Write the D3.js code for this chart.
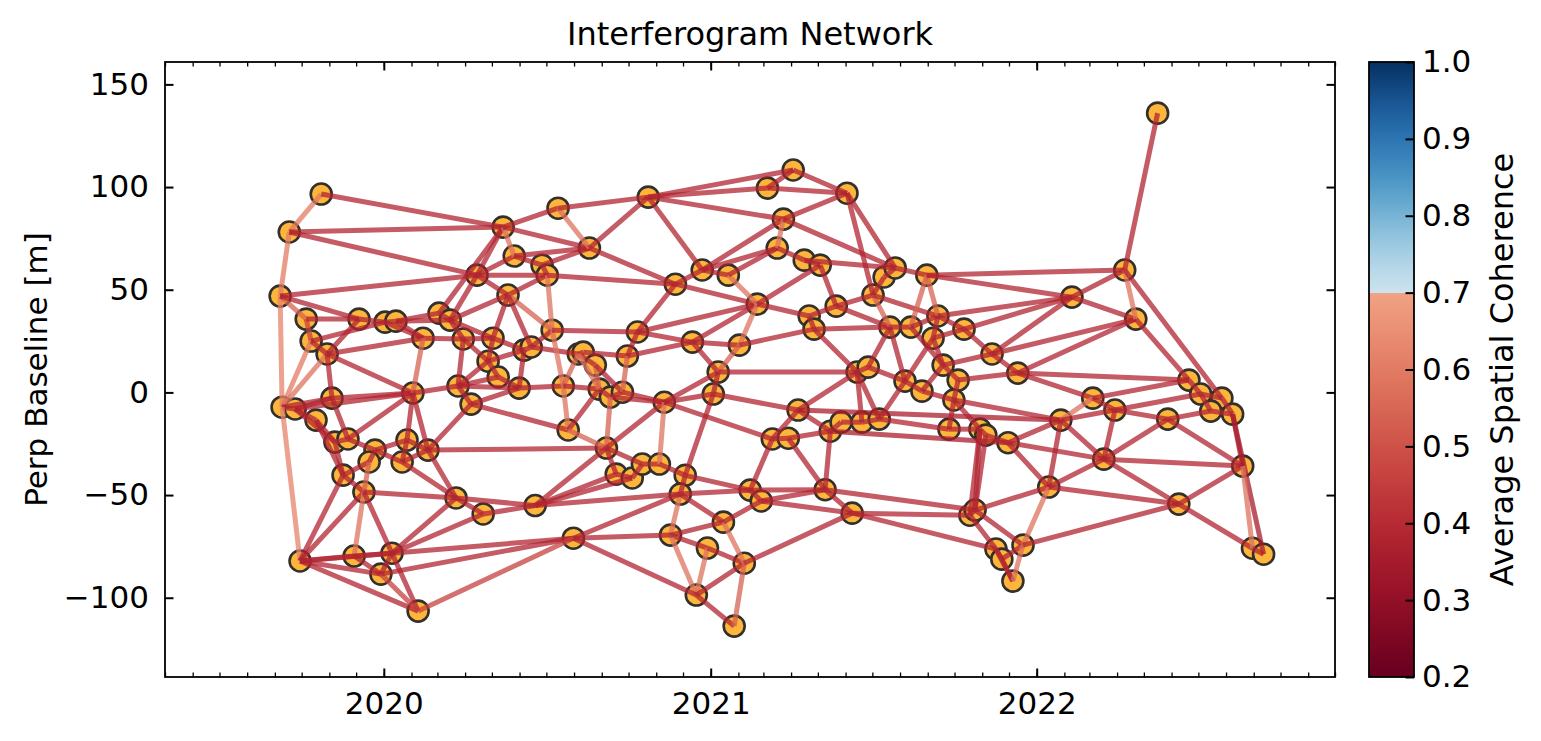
<!DOCTYPE html>
<html>
<head>
<meta charset="utf-8">
<script src="https://cdn.jsdelivr.net/npm/d3@7"></script>
<style>
  body { margin: 0; background: #fff; }
  text { font-family: "DejaVu Sans", sans-serif; }
</style>
</head>
<body>
<svg id="chart" width="1541" height="741"></svg>
<script>
// acquisition dates (decimal year) and perpendicular baselines [m], node ids 1..154
const acqYear = [
  2019.682, 2019.710, 2019.808, 2019.762, 2019.777, 2019.826, 2019.688, 2019.728, 2019.792, 2019.841,
  2019.850, 2019.890, 2019.875, 2019.939, 2019.973, 2019.955, 2019.743, 2019.909, 2020.025, 2019.991,
  2020.105, 2019.924, 2020.004, 2020.037, 2020.169, 2020.203, 2020.120, 2020.243, 2020.089, 2020.227,
  2020.071, 2020.135, 2020.056, 2020.221, 2020.267, 2020.304, 2020.285, 2020.365, 2020.399, 2020.380,
  2020.319, 2020.350, 2020.334, 2020.414, 2020.429, 2020.451, 2020.484, 2020.500, 2020.533, 2020.515,
  2020.549, 2020.564, 2020.595, 2020.610, 2020.647, 2020.659, 2020.693, 2020.730, 2020.745, 2020.776,
  2020.629, 2020.681, 2020.711, 2020.760, 2020.791, 2020.843, 2020.858, 2020.922, 2020.809, 2020.892,
  2020.944, 2020.974, 2021.023, 2021.008, 2020.907, 2020.877, 2020.990, 2020.956, 2021.072, 2021.039,
  2021.103, 2021.121, 2021.155, 2021.054, 2021.088, 2021.143, 2021.174, 2021.253, 2021.223, 2021.204,
  2021.418, 2021.287, 2021.336, 2021.302, 2021.317, 2021.385, 2021.268, 2021.189, 2021.238, 2021.351,
  2021.367, 2021.400, 2021.464, 2021.434, 2021.517, 2021.498, 2021.532, 2021.566, 2021.550, 2021.449,
  2021.483, 2021.596, 2021.648, 2021.614, 2021.663, 2021.697, 2021.682, 2021.713, 2021.759, 2021.746,
  2021.731, 2021.777, 2021.863, 2021.826, 2021.844, 2021.795, 2021.811, 2021.875, 2021.893, 2021.927,
  2021.912, 2021.958, 2021.942, 2022.037, 2022.074, 2022.108, 2022.172, 2022.240, 2022.206, 2022.270,
  2022.304, 2022.371, 2022.402, 2022.436, 2022.467, 2022.503, 2022.568, 2022.534, 2022.601, 2022.632,
  2022.662, 2022.696, 2020.463, 2020.580
];

const perpBase = [
  46.9, 78.1, 96.6, 35.7, 25.0, 18.7, -7.2, -8.1, -13.5, -2.8,
  -24.2, -22.7, -40.3, -48.5, -28.1, -33.9, -82.1, -79.7, -78.3, -88.5,
  -106.5, 35.7, 34.2, 34.7, 38.6, 35.2, 26.4, 26.0, -0.3, 3.1,
  -23.2, -28.1, -33.9, -51.4, -5.7, -59.2, 57.1, 80.5, 66.4, 47.4,
  15.2, 7.5, 26.4, 2.1, 20.6, 22.1, 62.0, 57.1, 89.7, 30.3,
  3.1, -18.3, 18.7, 19.6, 13.3, 1.6, -2.3, 0.1, 17.7, 29.4,
  70.3, -27.1, -39.8, -41.7, -34.9, -34.9, -4.8, -40.4, 95.1, 52.7,
  24.5, 59.6, 9.9, -0.8, -49.5, -69.5, -75.8, -98.7, -113.8, -63.2,
  -83.2, -47.6, -52.9, 57.1, 23.0, 43.0, 99.5, 108.3, 84.4, 70.3,
  97.0, 64.4, 62.0, 37.2, 30.8, 42.0, -8.6, -22.7, -22.3, -47.4,
  -18.9, -14.5, -14.5, -58.8, -13.0, 47.4, 56.2, 60.6, 31.8, 9.9,
  12.3, 5.5, 0.6, 31.8, 57.1, 37.2, 26.4, 13.3, 6.0, -3.7,
  -17.9, 30.8, 18.7, -17.9, -20.8, -59.8, -57.3, -76.3, -81.2, -91.9,
  -24.5, -74.4, 9.4, -46.1, -13.5, 46.4, -2.8, -8.6, -32.5, 59.6,
  35.7, 136.0, -13.0, -54.4, 6.0, -0.8, -2.8, -9.1, -10.6, -35.9,
  -75.9, -78.8, -55.1, -71.0
];

// interferogram pairs: [reference id, secondary id, average spatial coherence]
const ifgPairs = [
  [1,2,.6],[2,3,.6],[1,7,.62],[1,4,.54],[1,22,.38],[1,37,.38],[2,37,.38],[2,38,.38],[3,38,.38],
  [4,5,.46],[4,22,.38],[5,7,.6],[6,7,.58],[7,8,.38],[7,10,.38],[7,17,.62],[8,9,.38],[8,10,.38],
  [8,29,.38],[8,11,.38],[5,6,.38],[5,23,.38],[6,10,.38],[6,22,.38],[6,27,.38],[6,29,.38],
  [9,11,.38],[9,13,.38],[10,12,.38],[10,29,.38],[11,12,.38],[11,13,.38],[12,15,.38],[12,29,.38],
  [13,14,.38],[13,16,.38],[13,17,.38],[14,16,.54],[14,17,.38],[14,18,.58],[14,19,.38],[14,34,.38],
  [15,16,.38],[15,31,.38],[15,33,.38],[17,18,.38],[17,19,.38],[17,20,.38],[17,21,.38],[18,19,.38],
  [18,20,.38],[19,20,.38],[19,21,.38],[19,34,.38],[19,36,.38],[19,154,.38],[20,21,.46],[20,154,.38],
  [21,154,.46],[22,23,.38],[23,24,.38],[23,27,.38],[24,25,.38],[24,27,.38],[24,26,.38],[25,26,.38],
  [25,38,.38],[26,37,.38],[26,40,.38],[26,28,.38],[26,43,.38],[27,28,.38],[27,29,.54],[28,43,.38],
  [28,41,.38],[28,30,.38],[29,30,.38],[29,31,.38],[29,32,.38],[30,35,.38],[30,41,.38],[30,42,.38],
  [30,44,.38],[31,32,.38],[31,33,.38],[32,33,.38],[32,34,.38],[32,62,.38],[32,35,.38],[33,34,.38],
  [34,36,.38],[34,153,.38],[35,44,.38],[35,52,.38],[36,153,.38],
  [37,38,.38],[37,39,.38],[37,40,.38],[37,48,.38],[38,39,.58],[38,49,.38],[38,61,.38],[39,47,.38],
  [39,61,.38],[40,43,.38],[40,48,.38],[40,50,.54],[40,46,.38],[41,42,.38],[41,43,.38],[41,45,.38],
  [42,44,.38],[43,45,.38],[44,45,.38],[44,51,.38],[45,46,.38],[46,50,.38],[46,53,.38],[47,48,.38],
  [47,61,.38],[48,50,.58],[48,70,.38],[49,61,.58],[49,69,.38],[50,51,.58],[50,60,.38],[51,52,.58],
  [51,53,.54],[51,56,.38],[52,56,.38],[52,62,.54],[53,54,.38],[53,55,.38],[53,56,.58],[54,59,.38],
  [55,56,.54],[55,58,.38],[56,57,.38],[57,58,.38],[57,67,.38],[57,62,.54],[58,59,.54],[58,67,.38],
  [59,60,.38],[59,71,.38],[60,70,.38],[60,71,.38],[60,86,.38],[61,69,.38],[61,70,.38],
  [62,63,.38],[62,65,.38],[62,67,.38],[62,153,.38],[63,64,.38],[63,153,.38],[64,65,.38],[64,153,.38],
  [65,66,.38],[66,67,.58],[66,68,.38],[67,73,.38],[67,74,.38],[67,98,.38],[68,74,.38],[68,75,.38],
  [68,82,.38],[69,72,.38],[69,87,.38],[69,88,.38],[69,89,.38],[70,72,.38],[70,86,.38],[71,73,.38],
  [71,85,.38],[71,86,.38],[72,84,.38],[72,89,.38],[72,90,.38],[73,74,.38],[73,85,.54],[73,110,.38],
  [74,97,.38],[75,76,.58],[75,80,.38],[75,82,.38],[75,153,.38],[75,154,.38],[76,77,.38],[76,78,.58],
  [76,80,.38],[76,154,.38],[77,78,.58],[77,81,.38],[78,79,.38],[78,81,.38],[78,154,.38],[79,81,.54],
  [80,81,.58],[80,83,.38],[81,104,.38],[82,83,.38],[82,98,.38],[82,100,.38],[83,100,.38],[83,104,.38],
  [84,86,.58],[84,90,.38],[85,86,.58],[85,95,.38],[86,93,.38],[86,94,.38],[87,88,.38],[87,91,.38],
  [88,91,.38],[89,90,.58],[89,91,.38],[89,108,.38],[90,92,.38],[91,106,.38],[91,108,.38],[92,93,.38],
  [92,108,.38],[93,96,.38],[94,95,.38],[94,96,.38],[95,109,.38],[95,110,.38],[96,106,.38],[96,109,.38],
  [97,98,.38],[97,101,.38],[97,110,.38],[97,135,.36],[98,99,.38],[99,100,.38],[99,101,.38],
  [100,101,.38],[100,104,.38],[100,127,.38],[101,102,.38],[101,131,.36],[102,103,.38],[103,105,.38],
  [103,110,.38],[104,126,.38],[104,128,.38],[105,110,.38],[105,112,.38],[105,121,.38],
  [106,107,.38],[106,109,.54],[106,116,.38],[107,108,.38],[108,115,.38],[109,111,.38],[109,112,.38],
  [109,114,.38],[110,111,.38],[111,112,.38],[112,113,.38],[112,117,.38],[113,118,.38],[113,120,.38],
  [114,115,.54],[114,116,.38],[114,118,.38],[115,116,.54],[115,136,.38],[115,140,.38],[116,117,.38],
  [116,122,.38],[116,136,.38],[117,118,.38],[117,122,.38],[118,119,.38],[118,123,.38],[119,120,.38],
  [119,133,.38],[120,121,.38],[120,124,.38],[120,135,.38],[121,124,.38],[122,123,.38],[122,136,.38],
  [123,133,.38],[123,136,.38],[123,141,.38],[124,125,.38],[124,126,.38],[124,127,.38],[125,127,.38],
  [125,131,.38],[126,127,.38],[126,128,.38],[127,132,.38],[127,134,.38],[128,129,.38],[128,130,.38],
  [129,130,.38],[129,132,.38],[130,132,.58],[131,135,.38],[131,134,.38],[131,139,.38],[132,134,.58],
  [132,144,.38],[133,141,.38],[133,145,.38],[133,137,.38],[134,135,.38],[134,139,.38],[134,144,.38],
  [135,137,.58],[135,138,.38],[135,139,.38],[136,140,.38],[136,141,.38],[137,138,.38],[137,145,.38],
  [138,139,.38],[138,143,.38],[138,146,.38],[139,143,.38],[139,144,.38],[139,150,.38],[140,141,.58],
  [140,142,.38],[140,147,.38],[141,145,.38],[143,148,.38],[143,150,.38],[144,150,.38],[144,151,.38],
  [145,146,.38],[146,147,.38],[146,148,.38],[147,149,.38],[148,149,.38],[149,150,.38],[149,152,.35],
  [150,151,.58],[151,152,.38]
];

const yTicks = [-100, -50, 0, 50, 100, 150];
const cTicks = [0.2, 0.3, 0.4, 0.5, 0.6, 0.7, 0.8, 0.9, 1.0];

const svg = d3.select("#chart");
const margin = {top: 62, right: 206, bottom: 64, left: 165};
const W = 1541, H = 741;
const plotW = W - margin.left - margin.right;
const plotH = H - margin.top - margin.bottom;
const fontSize = 31;

function toDate(yr) {
  const y0 = Math.floor(yr);
  const a = Date.UTC(y0, 0, 1), b = Date.UTC(y0 + 1, 0, 1);
  return new Date(a + (yr - y0) * (b - a));
}

// red part of RdBu up to 0.7, blue part above
function cohColor(v) {
  if (v <= 0.7) return d3.interpolateRdBu(0.3 * (v - 0.2) / 0.5);
  return d3.interpolateRdBu(0.6 + 0.4 * (v - 0.7) / 0.3);
}

const x = d3.scaleUtc()
  .domain([new Date(Date.UTC(2019, 4, 1)), new Date(Date.UTC(2022, 11, 1))])
  .range([0, plotW]);
const y = d3.scaleLinear().domain([-138.6, 160.9]).range([plotH, 0]);

const g = svg.append("g").attr("transform", `translate(${margin.left},${margin.top})`);

const nodes = acqYear.map((t, i) => ({date: toDate(t), bperp: perpBase[i]}));

// axes, ticks pointing inward
function styleAxis(sel, w) {
  sel.select(".domain").remove();
  sel.selectAll(".tick line").attr("stroke", "#000").attr("stroke-width", w);
  sel.selectAll("text").attr("font-size", fontSize).attr("fill", "#000");
}

g.append("g").attr("transform", `translate(0,${plotH})`)
  .call(d3.axisBottom(x).ticks(d3.utcMonth).tickSize(-4.5).tickFormat(""))
  .call(s => styleAxis(s, 1.3));
g.append("g")
  .call(d3.axisTop(x).ticks(d3.utcMonth).tickSize(-4.5).tickFormat(""))
  .call(s => styleAxis(s, 1.3));
g.append("g").attr("transform", `translate(0,${plotH})`)
  .call(d3.axisBottom(x).ticks(d3.utcYear).tickSize(-8.5).tickPadding(15).tickFormat(d3.utcFormat("%Y")))
  .call(s => styleAxis(s, 2));
g.append("g")
  .call(d3.axisTop(x).ticks(d3.utcYear).tickSize(-8.5).tickFormat(""))
  .call(s => styleAxis(s, 2));
g.append("g")
  .call(d3.axisLeft(y).tickValues(yTicks).tickSize(-8.5).tickPadding(16))
  .call(s => styleAxis(s, 2));
g.append("g").attr("transform", `translate(${plotW},0)`)
  .call(d3.axisRight(y).tickValues(yTicks).tickSize(-8.5).tickFormat(""))
  .call(s => styleAxis(s, 2));

// network: nodes first, edges drawn on top
g.append("g").selectAll("circle")
  .data(nodes)
  .join("circle")
  .attr("cx", d => x(d.date))
  .attr("cy", d => y(d.bperp))
  .attr("r", 10.5)
  .attr("fill", "#fdb53b")
  .attr("stroke", "#33302c")
  .attr("stroke-width", 2.6);

g.append("g").selectAll("line")
  .data(ifgPairs)
  .join("line")
  .attr("x1", d => x(nodes[d[0] - 1].date))
  .attr("y1", d => y(nodes[d[0] - 1].bperp))
  .attr("x2", d => x(nodes[d[1] - 1].date))
  .attr("y2", d => y(nodes[d[1] - 1].bperp))
  .attr("stroke", d => cohColor(d[2]))
  .attr("stroke-width", 5)
  .attr("stroke-opacity", 0.75);

g.append("rect")
  .attr("width", plotW).attr("height", plotH)
  .attr("fill", "none").attr("stroke", "#000").attr("stroke-width", 1.8);

svg.append("text")
  .attr("x", margin.left + plotW / 2).attr("y", 45)
  .attr("text-anchor", "middle").attr("font-size", 32)
  .text("Interferogram Network");

svg.append("text")
  .attr("transform", `translate(47,${margin.top + plotH / 2}) rotate(-90)`)
  .attr("text-anchor", "middle").attr("font-size", fontSize)
  .text("Perp Baseline [m]");

// colorbar
const cbX = 1369, cbW = 45;
const cScale = d3.scaleLinear().domain([0.2, 1.0]).range([plotH, 0]);
const grad = svg.append("defs").append("linearGradient")
  .attr("id", "cohGrad").attr("x1", 0).attr("y1", 1).attr("x2", 0).attr("y2", 0);
d3.range(0.2, 1.0001, 0.01).forEach(v => {
  const vv = Math.min(v, 1);
  if (Math.abs(vv - 0.7) < 0.005) {
    grad.append("stop").attr("offset", (0.5 / 0.8 * 100) + "%").attr("stop-color", cohColor(0.7));
    grad.append("stop").attr("offset", (0.5 / 0.8 * 100) + "%").attr("stop-color", cohColor(0.7001));
  } else {
    grad.append("stop").attr("offset", ((vv - 0.2) / 0.8 * 100) + "%").attr("stop-color", cohColor(vv));
  }
});

const cb = svg.append("g").attr("transform", `translate(${cbX},${margin.top})`);
cb.append("rect").attr("width", cbW).attr("height", plotH).attr("fill", "url(#cohGrad)");
cb.append("g").attr("transform", `translate(${cbW},0)`)
  .call(d3.axisRight(cScale).tickValues(cTicks).tickSize(-8.5).tickFormat(d3.format(".1f")))
  .call(s => styleAxis(s, 2))
  .call(s => s.selectAll("text").attr("x", 8));
cb.append("rect").attr("width", cbW).attr("height", plotH)
  .attr("fill", "none").attr("stroke", "#000").attr("stroke-width", 1.8);

svg.append("text")
  .attr("transform", `translate(1513,${margin.top + plotH / 2}) rotate(-90)`)
  .attr("text-anchor", "middle").attr("font-size", 32)
  .text("Average Spatial Coherence");
</script>
</body>
</html>
